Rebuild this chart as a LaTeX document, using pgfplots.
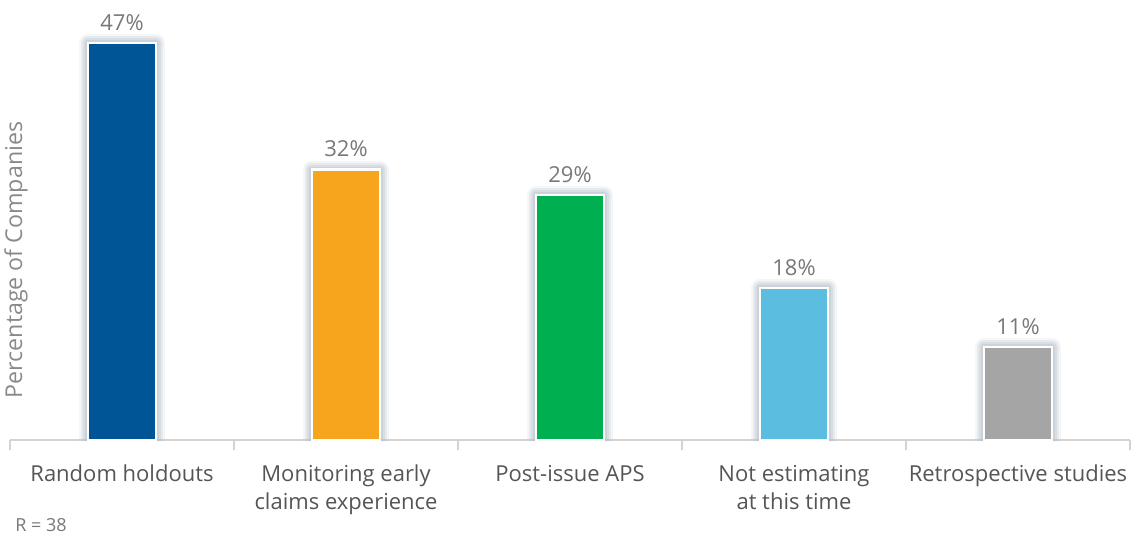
\documentclass[border=0pt]{standalone}
\usepackage{pgfplots}
\pgfplotsset{compat=1.18}
\usepackage{fontspec}
\setmainfont{Open Sans}
\definecolor{cBlue}{HTML}{005596}
\definecolor{cOrange}{HTML}{F6A51D}
\definecolor{cGreen}{HTML}{00AF50}
\definecolor{cLight}{HTML}{5BBDE0}
\definecolor{cGray}{HTML}{A5A5A5}
\definecolor{glow}{HTML}{B4C0CA}
\definecolor{axisgray}{HTML}{D3D3D3}
\definecolor{labgray}{HTML}{555555}
\definecolor{valgray}{HTML}{787878}
\definecolor{ylabgray}{HTML}{8A8A8A}
\pgfplotsset{
  glowbar/.style 2 args={forget plot, draw=glow, fill=none, draw opacity=#2,
    line width=#1, line join=round},
  mainbar/.style={draw=white, line width=1.2pt, fill=#1,
    nodes near coords={\pgfmathprintnumber{\pgfplotspointmeta}\%},
    nodes near coords style={font=\fontsize{11}{13}\selectfont, text=valgray, yshift=2.3pt,
      /pgf/number format/assume math mode=true}},
}
\begin{document}
\begin{tikzpicture}
\useasboundingbox (-5pt,-48pt) rectangle (563pt,220pt);
\begin{axis}[
  scale only axis, width=560pt, height=211.25pt,
  at={(0pt,0pt)}, anchor=south west,
  ymin=0, ymax=50, xmin=-0.5, xmax=4.5,
  axis x line*=bottom, axis y line=none,
  ybar, bar width=34pt, bar shift=0pt,
  xtick={0,1,2,3,4},
  xticklabels={Random holdouts,{Monitoring early\\claims experience},Post-issue APS,{Not estimating\\at this time},Retrospective studies},
  major tick length=0pt,
  xticklabel style={align=center, anchor=north, yshift=-9pt,
    font=\fontsize{11}{14}\selectfont, text=labgray},
  extra x ticks={-0.5,0.5,1.5,2.5,3.5,4.5},
  extra x tick labels={},
  extra x tick style={tick align=outside, major tick length=5pt},
  x axis line style={draw=axisgray, line width=0.9pt},
  tick style={draw=axisgray, line width=0.9pt},
]
% glow halos
\addplot[glowbar={9pt}{0.15}] coordinates {(0,47) (1,32) (2,29) (3,18) (4,11)};
\addplot[glowbar={7pt}{0.22}] coordinates {(0,47) (1,32) (2,29) (3,18) (4,11)};
\addplot[glowbar={5pt}{0.3}] coordinates {(0,47) (1,32) (2,29) (3,18) (4,11)};
\addplot[glowbar={3pt}{0.35}] coordinates {(0,47) (1,32) (2,29) (3,18) (4,11)};
% bars
\addplot[mainbar=cBlue] coordinates {(0,47)};
\addplot[mainbar=cOrange] coordinates {(1,32)};
\addplot[mainbar=cGreen] coordinates {(2,29)};
\addplot[mainbar=cLight] coordinates {(3,18)};
\addplot[mainbar=cGray] coordinates {(4,11)};
\end{axis}
\node[rotate=90, font=\fontsize{11.6}{13}\selectfont, text=ylabgray] at (3pt,90pt) {Percentage of Companies};
\node[anchor=base west, inner sep=0pt, font=\fontsize{9}{10}\selectfont, text=valgray] at (2.5pt,-45.5pt) {R = 38};
\end{tikzpicture}
\end{document}
